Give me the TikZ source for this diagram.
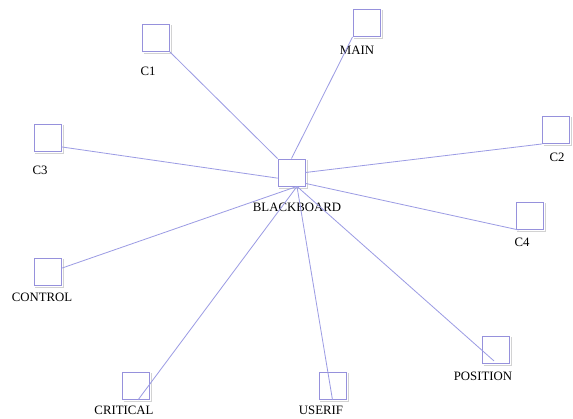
\documentclass[tikz,border=0pt]{standalone}
\usepackage{fontspec}
\setmainfont{Liberation Serif}
\usetikzlibrary{calc}
\definecolor{boxline}{RGB}{150,145,220}
\definecolor{edgeline}{RGB}{155,155,228}
\definecolor{boxshade}{RGB}{210,210,210}
\tikzset{
  module/.style={draw=boxline, line width=0.9pt, minimum size=27pt, inner sep=0pt},
  tag/.style={font=\fontsize{12.8}{14}\selectfont, inner sep=0pt, text=black},
  link/.style={draw=edgeline, line width=0.8pt},
}
\begin{document}
\begin{tikzpicture}[x=1pt, y=-1pt]
\useasboundingbox (0,0) rectangle (573,419);
\fill[white] (0,0) rectangle (573,419);

% light shading behind each module box
\foreach \px/\py in {156/38,366.5/23,556/130,47.5/137.5,291.5/172.5,
                     529.5/216,47.5/272,496/350,136/386,332.5/386}
  \draw[boxshade, line width=0.7pt, shift={(\px,\py)}] (-12.5,15.5) -- (15.5,15.5) -- (15.5,-12.5);

% module boxes
\node[module] (c1)       at (156,38)    {};
\node[module] (main)     at (366.5,23)  {};
\node[module] (c2)       at (556,130)   {};
\node[module] (c3)       at (47.5,137.5){};
\node[module] (bb)       at (291.5,172.5){};
\node[module] (c4)       at (529.5,216) {};
\node[module] (control)  at (47.5,272)  {};
\node[module] (position) at (496,350)   {};
\node[module] (critical) at (136,386)   {};
\node[module] (userif)   at (332.5,386) {};

% module names
\node[tag] (c1-l)       at (148,71)  {C1};
\node[tag] (main-l)     at (357,50)  {MAIN};
\node[tag] (c2-l)       at (557,157) {C2};
\node[tag] (c3-l)       at (40,170)  {C3};
\node[tag] (bb-l)       at (297,207) {BLACKBOARD};
\node[tag] (c4-l)       at (522,242) {C4};
\node[tag] (control-l)  at (42,297)  {CONTROL};
\node[tag] (position-l) at (483,376) {POSITION};
\node[tag] (critical-l) at (124,410) {CRITICAL};
\node[tag] (userif-l)   at (321,410) {USERIF};

% connections to the blackboard
\coordinate (hub) at ($(bb.south)+(5.5,0)$);
\draw[link] (c1.south east) -- (bb.north west);
\draw[link] (main.south west) -- (bb.north);
\draw[link] (c2.south west) -- (bb.east);
\draw[link] (c3.-34) -- (bb.-158);
\draw[link] (bb.-38) -- ($(c4.south west)+(3,0)$);
\draw[link] (control.15) -- (hub);
\draw[link] (hub) -- ($(critical.south)+(2,0)$);
\draw[link] (hub) -- (userif.south);
\draw[link] (hub) -- ($(position.south)+(-2,-3)$);
\end{tikzpicture}
\end{document}
